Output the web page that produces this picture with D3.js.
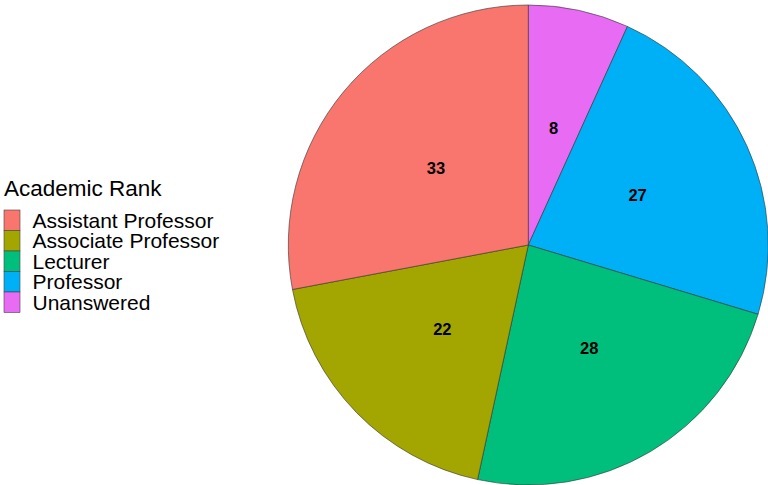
<!DOCTYPE html>
<html>
<head>
<meta charset="utf-8">
<script src="https://cdn.jsdelivr.net/npm/d3@7"></script>
<style>
  html, body { margin: 0; padding: 0; background: #fff; }
  svg { display: block; font-family: "Liberation Sans", Arial, sans-serif; }
</style>
</head>
<body>
<svg id="chart" width="768" height="485"></svg>
<script>
// Survey respondents by academic rank
const categories = ["Assistant Professor", "Associate Professor", "Lecturer", "Professor", "Unanswered"];
const counts = [33, 22, 28, 27, 8];
const colors = ["#F8766D", "#A3A500", "#00BF7D", "#00B0F6", "#E76BF3"];
const legendTitle = "Academic Rank";

const svg = d3.select("#chart");
const cx = 528.3, cy = 245, radius = 240;

const color = d3.scaleOrdinal().domain(categories).range(colors);

const rows = categories.map((c, i) => ({ category: c, value: counts[i] }));

// Slices are stacked counter-clockwise from 12 o'clock, so lay them out
// clockwise in reverse order.
const pie = d3.pie().sort(null).value(d => d.value);
const arcs = pie(rows.slice().reverse());

const arc = d3.arc().innerRadius(0).outerRadius(radius);
const labelArc = d3.arc().innerRadius(radius / 2).outerRadius(radius / 2);

const g = svg.append("g").attr("transform", `translate(${cx},${cy})`);

g.selectAll("path.slice")
  .data(arcs)
  .join("path")
  .attr("class", "slice")
  .attr("d", arc)
  .attr("fill", d => color(d.data.category))
  .attr("stroke", "#333")
  .attr("stroke-width", 0.6);

const valueSize = 16.5;
g.selectAll("text.value")
  .data(arcs)
  .join("text")
  .attr("class", "value")
  .attr("transform", d => {
    // value sits at half radius along the slice's mid-angle
    const [x, y] = labelArc.centroid(d);
    return `translate(${x},${y + valueSize * 0.36})`;
  })
  .attr("text-anchor", "middle")
  .attr("font-size", valueSize)
  .attr("font-weight", "bold")
  .attr("fill", "#000")
  .text(d => d.data.value);

// Legend
const legend = svg.append("g").attr("transform", "translate(4,0)");
legend.append("text")
  .attr("x", 0)
  .attr("y", 196)
  .attr("font-size", 22.5)
  .attr("fill", "#000")
  .text(legendTitle);

const keyH = 20.5, keyW = 16, keyTop = 210, labelSize = 21;
const items = legend.selectAll("g.item")
  .data(categories)
  .join("g")
  .attr("class", "item")
  .attr("transform", (d, i) => `translate(0,${keyTop + i * keyH})`);

items.append("rect")
  .attr("x", 0)
  .attr("y", 0)
  .attr("width", keyW)
  .attr("height", keyH)
  .attr("fill", d => color(d))
  .attr("stroke", "#444")
  .attr("stroke-width", 0.6);

items.append("text")
  .attr("x", 28.5)
  .attr("y", keyH / 2 + labelSize * 0.35)
  .attr("font-size", labelSize)
  .attr("fill", "#000")
  .text(d => d);
</script>
</body>
</html>
